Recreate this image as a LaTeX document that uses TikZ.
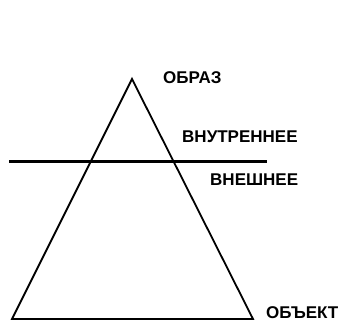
\documentclass[tikz,border=0pt]{standalone}
\usepackage{fontspec}
\setmainfont{Liberation Sans}
\usetikzlibrary{positioning}

\begin{document}
\begin{tikzpicture}[
  x=1pt, y=-1pt,
  every node/.style={font=\fontsize{17}{19}\selectfont\bfseries, inner sep=0pt},
  rotulo/.style={anchor=west},
  lado/.style={draw=black, line width=1.8pt, line join=miter},
  frontera/.style={draw=black, line width=3pt}
]
  \useasboundingbox (0,0) rectangle (342,323);

  %% ── Vértices ──────────────────────────────────────────────
  \coordinate (A) at (132,79);
  \coordinate (BL) at (12,319);
  \coordinate (BR) at (253,319);
  \coordinate (LL) at (9,161);
  \coordinate (LR) at (267,161);

  %% ── Triángulo y frontera ──────────────────────────────────
  \draw[lado] (A) -- (BL) -- (BR) -- cycle;
  \draw[frontera] (LL) -- (LR);

  %% ── Rótulos ───────────────────────────────────────────────
  \node[rotulo] (obraz) at (163,78) {ОБРАЗ};
  \node[rotulo] (vnutr) at (182,137) {ВНУТРЕННЕЕ};
  \node[rotulo] (vnesh) at (210,180) {ВНЕШНЕЕ};
  \node[rotulo] (obekt) at (266,313) {ОБЪЕКТ};

\end{tikzpicture}
\end{document}
